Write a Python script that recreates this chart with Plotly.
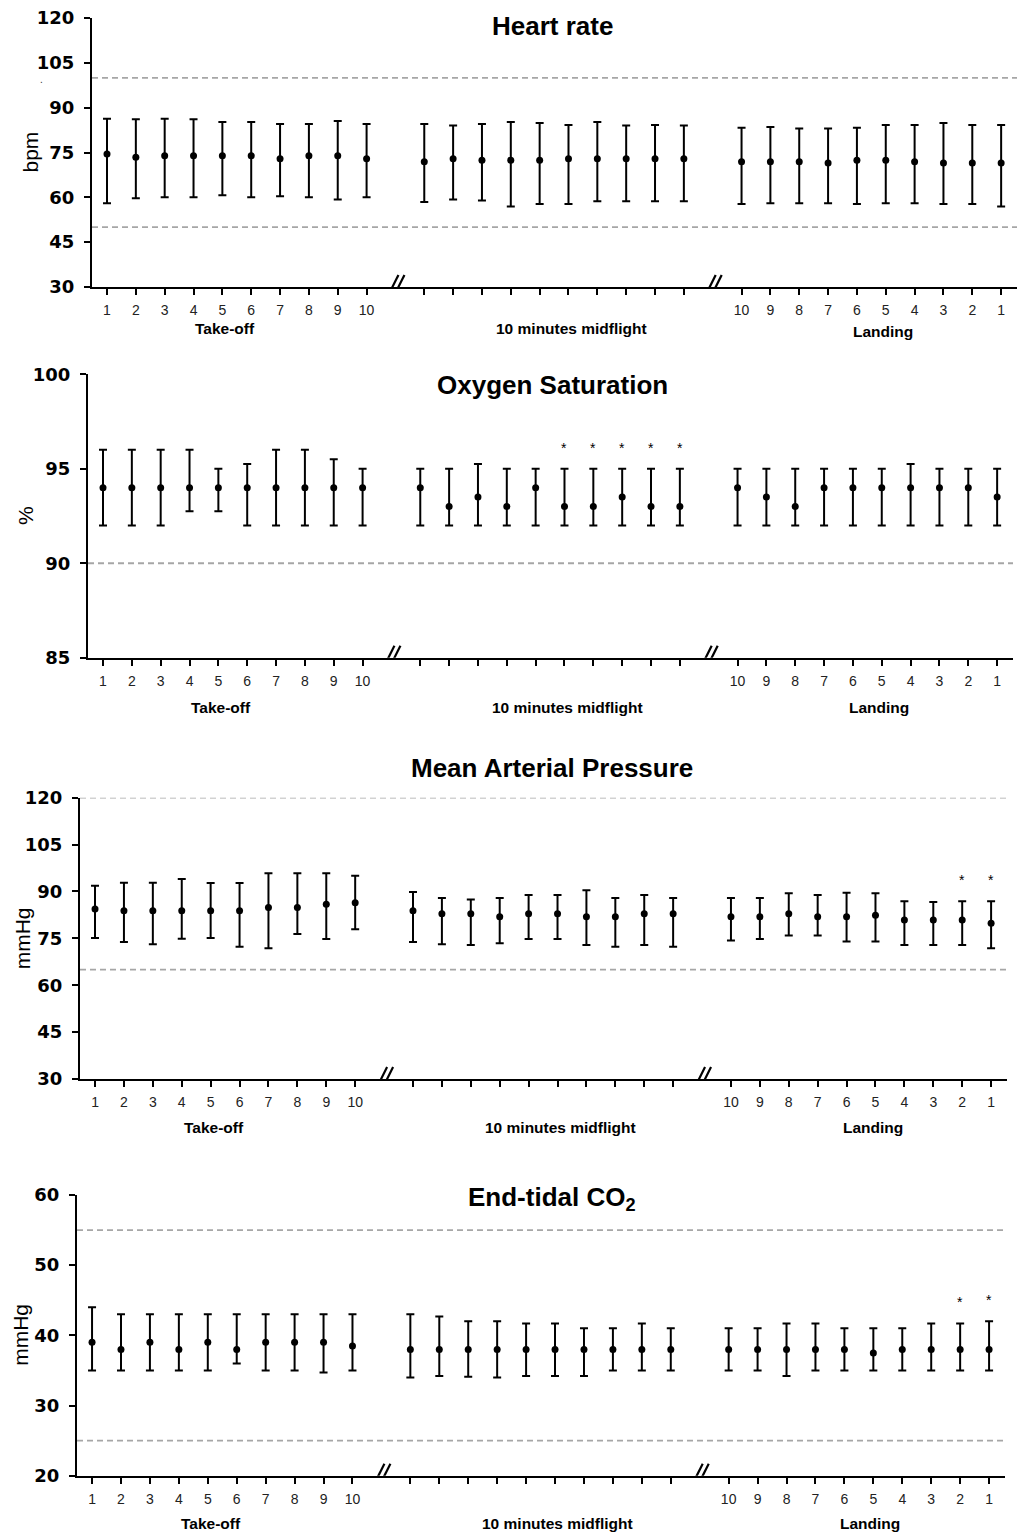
import plotly.graph_objects as go

# page body has an 8px margin: lay the figure out so it lands on the 1033x1540 viewport
BODY = 8
W, H = 1033 - 2 * BODY, 1540 - 2 * BODY

# ---------------- data (display order: take-off 1..10, midflight 1..10, landing 10..1)
takeoff_labels = ["1", "2", "3", "4", "5", "6", "7", "8", "9", "10"]
midflight_labels = [" "] * 10
landing_labels = ["10", "9", "8", "7", "6", "5", "4", "3", "2", "1"]
group_labels = ["Take-off", "10 minutes midflight", "Landing"]

hr_mean = [74.5, 73.4, 73.9, 73.9, 73.9, 73.9, 72.9, 73.9, 73.9, 72.9,
           71.9, 72.9, 72.4, 72.4, 72.4, 72.9, 72.9, 72.9, 72.9, 72.9,
           71.9, 71.9, 71.9, 71.5, 72.4, 72.4, 71.9, 71.5, 71.5, 71.5]
hr_hi = [86.3, 86.1, 86.3, 86.1, 85.2, 85.2, 84.5, 84.5, 85.5, 84.5,
         84.5, 84.0, 84.5, 85.2, 84.9, 84.2, 85.2, 84.0, 84.2, 84.0,
         83.3, 83.5, 83.0, 83.0, 83.3, 84.2, 84.2, 84.9, 84.2, 84.2]
hr_lo = [58.0, 59.7, 60.0, 60.0, 60.7, 60.0, 60.4, 60.0, 59.3, 60.0,
         58.4, 59.3, 58.9, 56.9, 57.8, 57.8, 58.7, 58.7, 58.7, 58.7,
         57.8, 58.0, 58.0, 58.0, 57.8, 58.0, 58.0, 57.8, 57.8, 56.9]
hr_sig = []

o2_mean = [94, 94, 94, 94, 94, 94, 94, 94, 94, 94,
           94, 93, 93.5, 93, 94, 93, 93, 93.5, 93, 93,
           94, 93.5, 93, 94, 94, 94, 94, 94, 94, 93.5]
o2_hi = [96, 96, 96, 96, 95, 95.25, 96, 96, 95.5, 95,
         95, 95, 95.25, 95, 95, 95, 95, 95, 95, 95,
         95, 95, 95, 95, 95, 95, 95.25, 95, 95, 95]
o2_lo = [92, 92, 92, 92.75, 92.75, 92, 92, 92, 92, 92,
         92, 92, 92, 92, 92, 92, 92, 92, 92, 92,
         92, 92, 92, 92, 92, 92, 92, 92, 92, 92]
o2_sig = [15, 16, 17, 18, 19]

map_mean = [84.4, 83.8, 83.8, 83.8, 83.8, 83.8, 84.9, 84.9, 85.9, 86.4,
            83.8, 82.9, 82.9, 81.9, 82.9, 82.9, 81.9, 81.9, 82.9, 82.9,
            81.9, 81.9, 82.9, 81.9, 81.9, 82.4, 80.9, 80.9, 80.9, 79.8]
map_hi = [91.8, 92.8, 92.8, 94.0, 92.7, 92.7, 95.8, 95.8, 95.8, 95.0,
          89.8, 87.9, 87.4, 87.9, 88.9, 88.9, 90.4, 87.9, 88.9, 87.9,
          87.9, 87.9, 89.4, 88.9, 89.6, 89.4, 86.9, 86.6, 86.9, 86.9]
map_lo = [75.1, 73.8, 73.1, 74.9, 75.1, 72.3, 71.8, 76.4, 74.8, 77.9,
          73.8, 73.1, 72.9, 73.4, 74.8, 74.8, 72.9, 72.3, 72.9, 72.3,
          74.3, 74.8, 75.9, 75.9, 74.0, 74.0, 72.9, 72.9, 72.9, 71.8]
map_sig = [28, 29]

co2_mean = [39, 38, 39, 38, 39, 38, 39, 39, 39, 38.5,
            38, 38, 38, 38, 38, 38, 38, 38, 38, 38,
            38, 38, 38, 38, 38, 37.5, 38, 38, 38, 38]
co2_hi = [44, 43, 43, 43, 43, 43, 43, 43, 43, 43,
          43, 42.7, 42, 42, 41.7, 41.7, 41, 41, 41.7, 41,
          41, 41, 41.7, 41.7, 41, 41, 41, 41.7, 41.7, 42]
co2_lo = [35, 35, 35, 35, 35, 36, 35, 35, 34.7, 35,
          34, 34.2, 34.1, 34, 34.2, 34.2, 34.2, 35, 35, 35,
          35, 35, 34.2, 35, 35, 35, 35, 35, 35, 35]
co2_sig = [28, 29]

panels = [
    dict(title="Heart rate", ylab="bpm", mean=hr_mean, hi=hr_hi, lo=hr_lo, sig=hr_sig,
         yr=[30, 120], dt=15, refs=[100, 50],
         px=(92, 1017), py=(18, 287), title_y=26, ylab_x=30, grp_y=(329, 329, 331)),
    dict(title="Oxygen Saturation", ylab="%", mean=o2_mean, hi=o2_hi, lo=o2_lo, sig=o2_sig,
         yr=[85, 100], dt=5, refs=[90],
         px=(88, 1013), py=(374.3, 657.7), title_y=385, ylab_x=26, grp_y=(707, 707, 707)),
    dict(title="Mean Arterial Pressure", ylab="mmHg", mean=map_mean, hi=map_hi, lo=map_lo, sig=map_sig,
         yr=[30, 120], dt=15, refs=[120, 65],
         px=(80, 1007), py=(797.7, 1079), title_y=768, ylab_x=22, grp_y=(1127.5, 1127.5, 1127.5)),
    dict(title="End-tidal CO<sub>2</sub>", ylab="mmHg", mean=co2_mean, hi=co2_hi, lo=co2_lo, sig=co2_sig,
         yr=[20, 60], dt=10, refs=[55, 25],
         px=(77, 1005), py=(1195, 1475.7), title_y=1198, ylab_x=20.5, grp_y=(1523, 1523, 1523)),
]

# category slots (gaps at the axis breaks)
xs = list(range(1, 11)) + list(range(12, 22)) + list(range(23, 33))
tick_text = takeoff_labels + midflight_labels + landing_labels
breaks = [11, 22]
group_x = [5.1, 17.1, 27.9]
XR = [0.48, 32.55]

FONT = "Arial, 'Liberation Sans', Helvetica, sans-serif"
NUMFONT = "'DejaVu Sans', Arial, sans-serif"


def px_x(p):
    return (p - BODY) / W


def px_y(p):
    return 1 - (p - BODY) / H


fig = go.Figure()
annotations = []
shapes = []

for i, p in enumerate(panels):
    n = i + 1
    xa = "x" if n == 1 else f"x{n}"
    ya = "y" if n == 1 else f"y{n}"
    xkey = "xaxis" if n == 1 else f"xaxis{n}"
    ykey = "yaxis" if n == 1 else f"yaxis{n}"

    plus = [h - m for h, m in zip(p["hi"], p["mean"])]
    minus = [m - l for m, l in zip(p["mean"], p["lo"])]
    fig.add_trace(go.Scatter(
        x=xs, y=p["mean"], mode="markers", xaxis=xa, yaxis=ya,
        marker=dict(color="black", size=7),
        error_y=dict(type="data", symmetric=False, array=plus, arrayminus=minus,
                     color="black", thickness=2, width=4),
        showlegend=False, hoverinfo="skip",
    ))

    fig.layout[xkey] = dict(
        domain=[px_x(p["px"][0]), px_x(p["px"][1])], range=XR, anchor=ya,
        showgrid=False, zeroline=False, showline=True, linecolor="black", linewidth=2,
        ticks="outside", ticklen=6, tickwidth=2, tickcolor="black",
        tickvals=xs, ticktext=tick_text, ticklabelstandoff=3, automargin=False,
        ticklabeloverflow="allow",
        tickfont=dict(family=FONT, size=14, color="#222"),
    )
    yvals = list(range(p["yr"][0], p["yr"][1] + 1, p["dt"]))
    fig.layout[ykey] = dict(
        domain=[px_y(p["py"][1]), px_y(p["py"][0])], range=p["yr"], anchor=xa,
        showgrid=False, zeroline=False, showline=True, linecolor="black", linewidth=2,
        ticks="outside", ticklen=6, tickwidth=2, tickcolor="black",
        tickvals=yvals, ticklabelstandoff=6, automargin=False,
        ticklabeloverflow="allow",
        tickfont=dict(family=NUMFONT, size=18, color="black", weight="bold"),
    )

    # reference lines
    for r in p["refs"]:
        shapes.append(dict(type="line", xref=f"{xa} domain", yref=ya, x0=0, x1=1, y0=r, y1=r,
                           line=dict(color="#a6a6a6", width=1.8, dash="6px,4px"), layer="below"))

    # axis break marks
    for b in breaks:
        for off in (-3, 3):
            shapes.append(dict(type="line", xref=xa, yref=ya,
                               xsizemode="pixel", ysizemode="pixel",
                               xanchor=b, yanchor=p["yr"][0],
                               x0=off - 6, x1=off + 6, y0=-12, y1=12,
                               line=dict(color="black", width=2.2)))

    # title
    annotations.append(dict(text=f"<b>{p['title']}</b>", xref="paper", yref="paper",
                            x=px_x(552), y=px_y(p["title_y"]), showarrow=False,
                            xanchor="center", yanchor="middle",
                            font=dict(family=FONT, size=26, color="black")))
    # y-axis label
    annotations.append(dict(text=p["ylab"], xref="paper", yref="paper", textangle=-90,
                            x=px_x(p["ylab_x"]), y=px_y((p["py"][0] + p["py"][1]) / 2),
                            showarrow=False, xanchor="center", yanchor="middle",
                            font=dict(family=FONT, size=21, color="black")))
    # phase labels
    for gx, gl, gy in zip(group_x, group_labels, p["grp_y"]):
        annotations.append(dict(text=f"<b>{gl}</b>", xref=xa, yref="paper",
                                x=gx, y=px_y(gy), showarrow=False,
                                xanchor="center", yanchor="middle",
                                font=dict(family=FONT, size=15.5, color="black")))
    # significance asterisks
    for k in p["sig"]:
        annotations.append(dict(text="*", xref=xa, yref=ya, x=xs[k], y=p["hi"][k],
                                yshift=21, showarrow=False, xanchor="center", yanchor="middle",
                                font=dict(family=FONT, size=14, color="black")))

# small stray dot next to the first panel's y ticks
annotations.append(dict(text=".", xref="paper", yref="paper", x=px_x(38), y=px_y(72),
                        showarrow=False, font=dict(family=FONT, size=10, color="#333")))

fig.update_layout(
    width=W, height=H, margin=dict(l=0, r=0, t=0, b=0, pad=0, autoexpand=False),
    paper_bgcolor="white", plot_bgcolor="white",
    annotations=annotations, shapes=shapes, showlegend=False,
)

fig.write_html("out.html")
